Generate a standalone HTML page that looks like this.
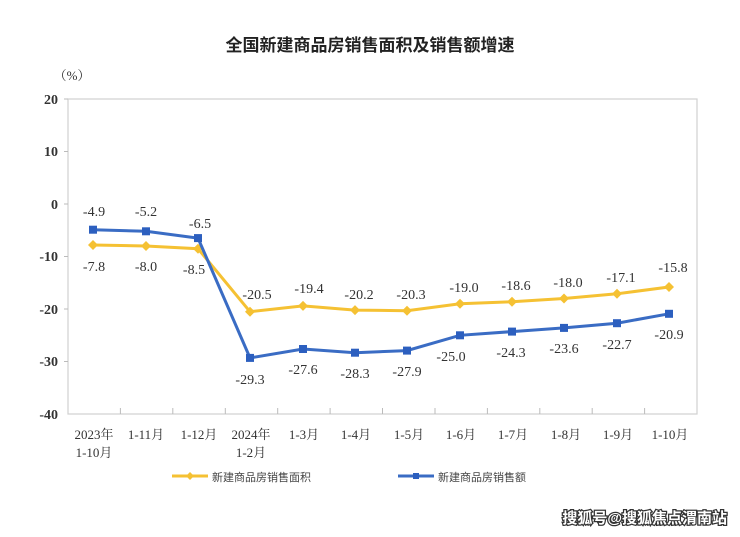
<!DOCTYPE html>
<html><head><meta charset="utf-8"><style>
html,body{margin:0;padding:0;background:#fff;}
body{width:740px;height:532px;overflow:hidden;}
</style></head><body>
<svg width="740" height="532" xmlns="http://www.w3.org/2000/svg" font-family="'Liberation Serif','Noto Serif CJK SC',serif">
<text x="370" y="51" text-anchor="middle" font-size="17" font-weight="bold" font-family="'Liberation Sans','Noto Sans CJK SC',sans-serif" fill="#222">全国新建商品房销售面积及销售额增速</text>
<text x="72" y="80" text-anchor="middle" font-size="13" fill="#333">（%）</text>
<rect x="68" y="99" width="629" height="315" fill="none" stroke="#d0d0d0" stroke-width="1.2"/>
<g font-size="14" font-weight="bold" fill="#333" text-anchor="end">
<text x="58" y="104">20</text><text x="58" y="156">10</text><text x="58" y="209">0</text>
<text x="58" y="261">-10</text><text x="58" y="314">-20</text><text x="58" y="366">-30</text><text x="58" y="419">-40</text>
</g>
<g stroke="#bbb">
<line x1="64" y1="99" x2="68" y2="99"/><line x1="64" y1="151.5" x2="68" y2="151.5"/><line x1="64" y1="204" x2="68" y2="204"/><line x1="64" y1="256.5" x2="68" y2="256.5"/><line x1="64" y1="309" x2="68" y2="309"/><line x1="64" y1="361.5" x2="68" y2="361.5"/>
<line x1="120.4" y1="408" x2="120.4" y2="414"/><line x1="172.8" y1="408" x2="172.8" y2="414"/><line x1="225.3" y1="408" x2="225.3" y2="414"/><line x1="277.7" y1="408" x2="277.7" y2="414"/><line x1="330.1" y1="408" x2="330.1" y2="414"/><line x1="382.5" y1="408" x2="382.5" y2="414"/><line x1="435" y1="408" x2="435" y2="414"/><line x1="487.4" y1="408" x2="487.4" y2="414"/><line x1="539.8" y1="408" x2="539.8" y2="414"/><line x1="592.2" y1="408" x2="592.2" y2="414"/><line x1="644.6" y1="408" x2="644.6" y2="414"/>
</g>
<g font-size="13" fill="#333" text-anchor="middle">
<text x="94" y="439">2023年</text><text x="94" y="457">1-10月</text>
<text x="146" y="439">1-11月</text><text x="199" y="439">1-12月</text>
<text x="251" y="439">2024年</text><text x="251" y="457">1-2月</text>
<text x="304" y="439">1-3月</text><text x="356" y="439">1-4月</text><text x="409" y="439">1-5月</text>
<text x="461" y="439">1-6月</text><text x="513" y="439">1-7月</text><text x="566" y="439">1-8月</text>
<text x="618" y="439">1-9月</text><text x="670" y="439">1-10月</text>
</g>
<polyline fill="none" stroke="#f5c133" stroke-width="3" points="93,245 146,246 198,248.7 250,311.7 303,305.9 355,310.1 407,310.7 460,303.8 512,301.7 564,298.5 617,293.8 669,287"/>
<g fill="#f5c133">
<path d="M93,240l5,5l-5,5l-5-5z"/><path d="M146,241l5,5l-5,5l-5-5z"/><path d="M198,243.7l5,5l-5,5l-5-5z"/><path d="M250,306.7l5,5l-5,5l-5-5z"/><path d="M303,300.9l5,5l-5,5l-5-5z"/><path d="M355,305.1l5,5l-5,5l-5-5z"/><path d="M407,305.7l5,5l-5,5l-5-5z"/><path d="M460,298.8l5,5l-5,5l-5-5z"/><path d="M512,296.7l5,5l-5,5l-5-5z"/><path d="M564,293.5l5,5l-5,5l-5-5z"/><path d="M617,288.8l5,5l-5,5l-5-5z"/><path d="M669,282l5,5l-5,5l-5-5z"/>
</g>
<polyline fill="none" stroke="#3a6cc4" stroke-width="3" points="93,229.7 146,231.3 198,238.1 250,357.9 303,349 355,352.7 407,350.6 460,335.3 512,331.6 564,327.9 617,323.2 669,313.8"/>
<g fill="#2c5fbf">
<rect x="89" y="225.7" width="8" height="8"/><rect x="142" y="227.3" width="8" height="8"/><rect x="194" y="234.1" width="8" height="8"/><rect x="246" y="353.9" width="8" height="8"/><rect x="299" y="345" width="8" height="8"/><rect x="351" y="348.7" width="8" height="8"/><rect x="403" y="346.6" width="8" height="8"/><rect x="456" y="331.3" width="8" height="8"/><rect x="508" y="327.6" width="8" height="8"/><rect x="560" y="323.9" width="8" height="8"/><rect x="613" y="319.2" width="8" height="8"/><rect x="665" y="309.8" width="8" height="8"/>
</g>
<g font-size="14" fill="#333" text-anchor="middle">
<text x="94" y="216">-4.9</text><text x="146" y="216">-5.2</text><text x="200" y="228">-6.5</text>
<text x="94" y="271">-7.8</text><text x="146" y="271">-8.0</text><text x="194" y="274">-8.5</text>
<text x="257" y="299">-20.5</text><text x="309" y="293">-19.4</text><text x="359" y="299">-20.2</text><text x="411" y="299">-20.3</text><text x="464" y="292">-19.0</text><text x="516" y="290">-18.6</text><text x="568" y="287">-18.0</text><text x="621" y="282">-17.1</text><text x="673" y="272">-15.8</text>
<text x="250" y="384">-29.3</text><text x="303" y="374">-27.6</text><text x="355" y="378">-28.3</text><text x="407" y="376">-27.9</text><text x="451" y="361">-25.0</text><text x="511" y="357">-24.3</text><text x="564" y="353">-23.6</text><text x="617" y="349">-22.7</text><text x="669" y="339">-20.9</text>
</g>
<line x1="172" y1="476" x2="208" y2="476" stroke="#f5c133" stroke-width="3"/>
<path d="M190,472l4,4l-4,4l-4-4z" fill="#f5c133"/>
<text x="212" y="481" font-size="11" fill="#444" font-family="'Liberation Sans','Noto Sans CJK SC',sans-serif">新建商品房销售面积</text>
<line x1="398" y1="476" x2="434" y2="476" stroke="#3a6cc4" stroke-width="3"/>
<rect x="413" y="473" width="6" height="6" fill="#2c5fbf"/>
<text x="438" y="481" font-size="11" fill="#444" font-family="'Liberation Sans','Noto Sans CJK SC',sans-serif">新建商品房销售额</text>
<text x="727" y="523" text-anchor="end" font-size="15" font-weight="bold" fill="#fff" stroke="#333" stroke-width="2.5" paint-order="stroke" font-family="'Liberation Sans','Noto Sans CJK SC',sans-serif">搜狐号@搜狐焦点渭南站</text>
</svg>
</body></html>
